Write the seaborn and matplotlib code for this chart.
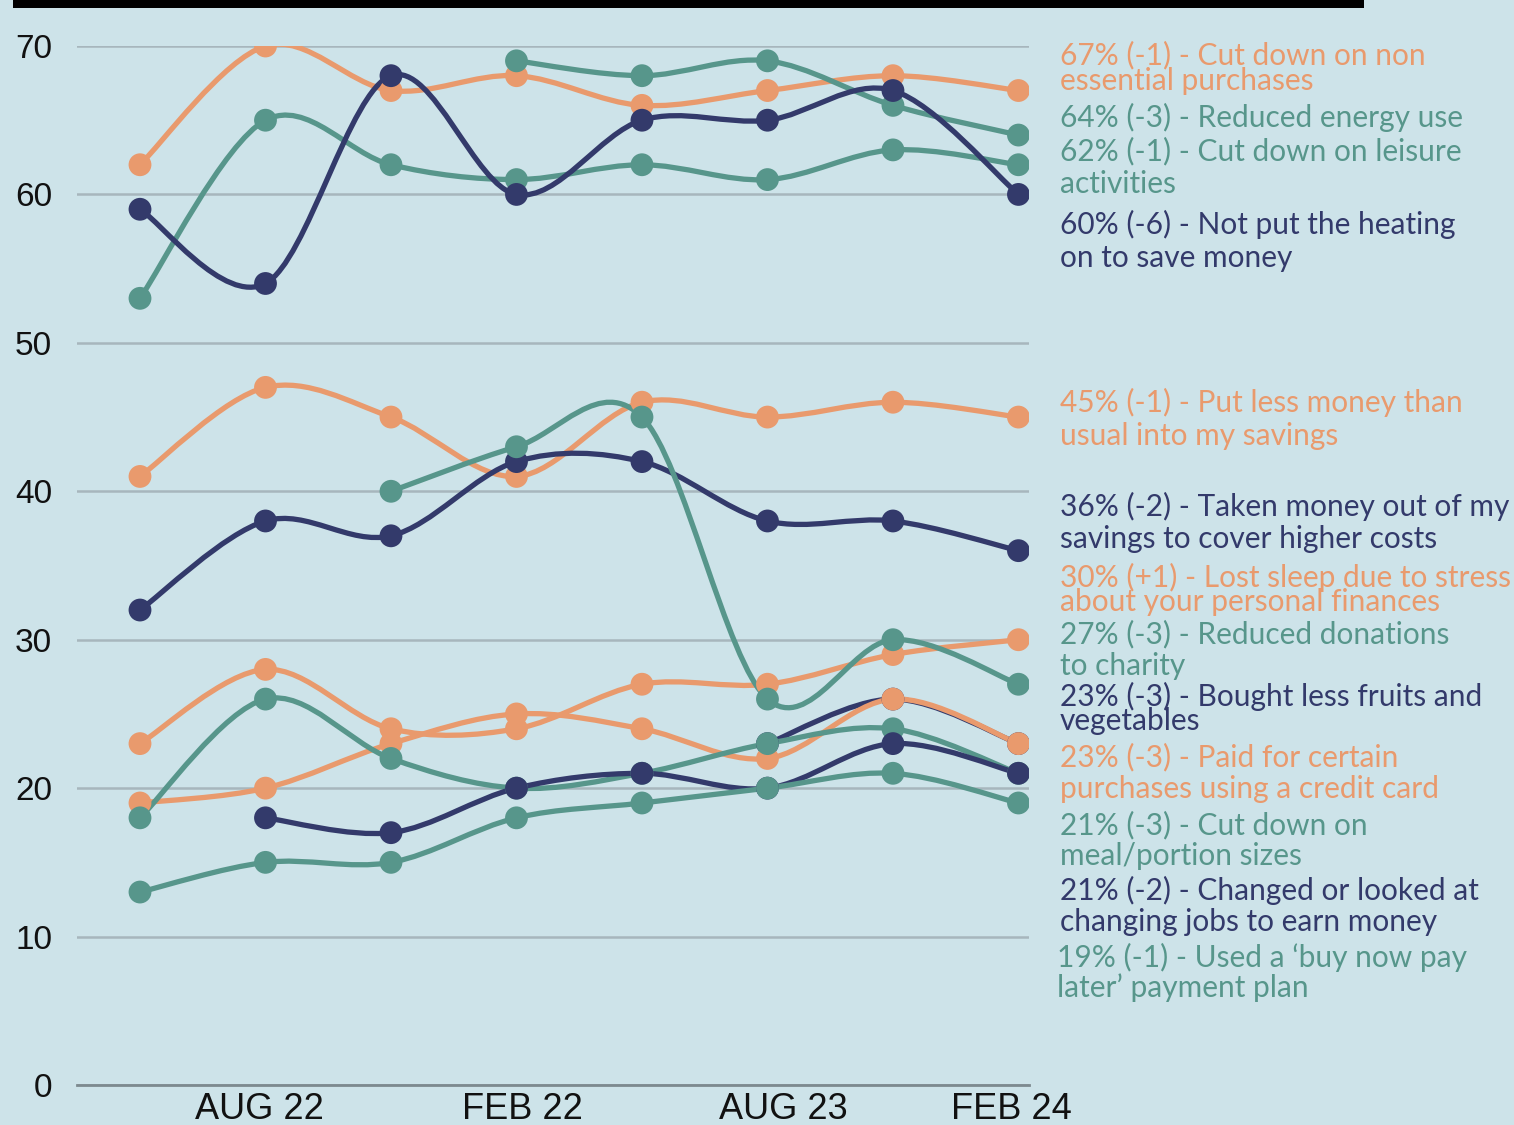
import matplotlib
matplotlib.use('Agg')
import matplotlib.pyplot as plt
import seaborn as sns
import numpy as np
import pandas as pd
from matplotlib.path import Path
from matplotlib.patches import PathPatch, Rectangle

# survey waves (8 points), tick labels as printed on the chart
waves = ['W1', 'W2', 'W3', 'W4', 'W5', 'W6', 'W7', 'W8']
tick_labels = ['AUG 22', 'FEB 22', 'AUG 23', 'FEB 24']

non_essential = [62, 70, 67, 68, 66, 67, 68, 67]
energy_use = [None, None, None, 69, 68, 69, 66, 64]
leisure = [53, 65, 62, 61, 62, 61, 63, 62]
heating = [59, 54, 68, 60, 65, 65, 67, 60]
less_savings = [41, 47, 45, 41, 46, 45, 46, 45]
out_of_savings = [32, 38, 37, 42, 42, 38, 38, 36]
charity = [None, None, 40, 43, 45, 26, 30, 27]
lost_sleep = [23, 28, 24, 24, 27, 27, 29, 30]
credit_card = [19, 20, 23, 25, 24, 22, 26, 23]
portion_sizes = [18, 26, 22, 20, 21, 23, 24, 21]
fruit_veg = [None, None, None, None, None, 23, 26, 23]
changed_jobs = [None, 18, 17, 20, 21, 20, 23, 21]
bnpl = [13, 15, 15, 18, 19, 20, 21, 19]

labels = [
    '67% (-1) - Cut down on non\nessential purchases',
    '64% (-3) - Reduced energy use',
    '62% (-1) - Cut down on leisure\nactivities',
    '60% (-6) - Not put the heating\non to save money',
    '45% (-1) - Put less money than\nusual into my savings',
    '36% (-2) - Taken money out of my\nsavings to cover higher costs',
    '30% (+1) - Lost sleep due to stress\nabout your personal finances',
    '27% (-3) - Reduced donations\nto charity',
    '23% (-3) - Bought less fruits and\nvegetables',
    '23% (-3) - Paid for certain\npurchases using a credit card',
    '21% (-3) - Cut down on\nmeal/portion sizes',
    '21% (-2) - Changed or looked at\nchanging jobs to earn money',
    "19% (-1) - Used a \u2018buy now pay\nlater\u2019 payment plan",
]
series = [non_essential, energy_use, leisure, heating, less_savings, out_of_savings,
          lost_sleep, charity, fruit_veg, credit_card, portion_sizes, changed_jobs, bnpl]

ORANGE = '#e99a6d'
TEAL = '#57968b'
NAVY = '#333a6b'
BG = '#cde3e9'
colors = [ORANGE, TEAL, TEAL, NAVY, ORANGE, NAVY, ORANGE, TEAL, NAVY, ORANGE, TEAL, NAVY, TEAL]

# legend text layout (pixel y centres of each line, left x)
label_lines_y = [(55, 81), (117,), (151, 184), (224, 258), (402, 436), (506, 539),
                 (577, 602), (634, 666), (696, 721), (757, 789), (825, 856), (890, 922), (957, 988)]
label_x = [1060] * 12 + [1057]

rows = []
for name, vals in zip(labels, series):
    for i, v in enumerate(vals):
        if v is not None:
            rows.append({'series': name, 'wave': i, 'value': v})
df = pd.DataFrame(rows)

W, H = 1514, 1125
fig = plt.figure(figsize=(W / 100, H / 100), dpi=100)
fig.patch.set_facecolor(BG)
ax = fig.add_axes([77 / W, 1 - 1085 / H, (1029 - 77) / W, (1085 - 46) / H])
ax.set_facecolor(BG)


def smooth_path(xs, ys):
    # Catmull-Rom style bezier through the points, like Excel's smoothed line
    pts = np.column_stack([xs, ys]).astype(float)
    verts = [pts[0]]
    codes = [Path.MOVETO]
    n = len(pts)
    for i in range(n - 1):
        p0 = pts[i - 1] if i > 0 else pts[i]
        p1 = pts[i]
        p2 = pts[i + 1]
        p3 = pts[i + 2] if i + 2 < n else pts[i + 1]
        c1 = p1 + (p2 - p0) / 6
        c2 = p2 - (p3 - p1) / 6
        verts += [c1, c2, p2]
        codes += [Path.CURVE4] * 3
    return Path(verts, codes)


for name, col in zip(labels, colors):
    sub = df[df['series'] == name]
    path = smooth_path(sub['wave'].values, sub['value'].values)
    ax.add_patch(PathPatch(path, facecolor='none', edgecolor=col, lw=3.8, zorder=3,
                           capstyle='round', joinstyle='round'))

sns.scatterplot(data=df, x='wave', y='value', hue='series', palette=dict(zip(labels, colors)),
                s=270, linewidth=0, legend=False, ax=ax, zorder=4)

ax.set_xlim(-0.502, 7.084)
ax.set_ylim(0, 70)
ax.set_yticks(range(0, 71, 10))
ax.set_yticklabels([str(v) for v in range(0, 71, 10)], fontsize=24,
                   family=['Liberation Sans', 'DejaVu Sans'], color='#111111')
ax.set_xticks([0.95, 3.05, 5.13, 6.94])
ax.set_xticklabels(tick_labels, fontsize=26, family=['Liberation Sans', 'DejaVu Sans'],
                   color='#111111')
ax.tick_params(axis='y', length=0, pad=18)
ax.tick_params(axis='x', length=0, pad=5)
ax.grid(axis='y', color='#a7b6bd', lw=1.8, zorder=1)
ax.grid(axis='x', visible=False)
for s in ['top', 'right', 'left']:
    ax.spines[s].set_visible(False)
ax.spines['bottom'].set_color('#7d8a8f')
ax.spines['bottom'].set_linewidth(2)
ax.set_xlabel('')
ax.set_ylabel('')

# black rule at the top
fig.add_artist(Rectangle((13 / W, 1 - 8 / H), (1364 - 13) / W, 8 / H,
                         transform=fig.transFigure, color='black', lw=0))

for text, col, ys, x in zip(labels, colors, label_lines_y, label_x):
    for line, y in zip(text.split('\n'), ys):
        fig.text(x / W, 1 - y / H, line, color=col, fontsize=21.5,
                 family=['Lato', 'DejaVu Sans'], va='center', ha='left')

fig.savefig('out.png', dpi=100, facecolor=BG)
